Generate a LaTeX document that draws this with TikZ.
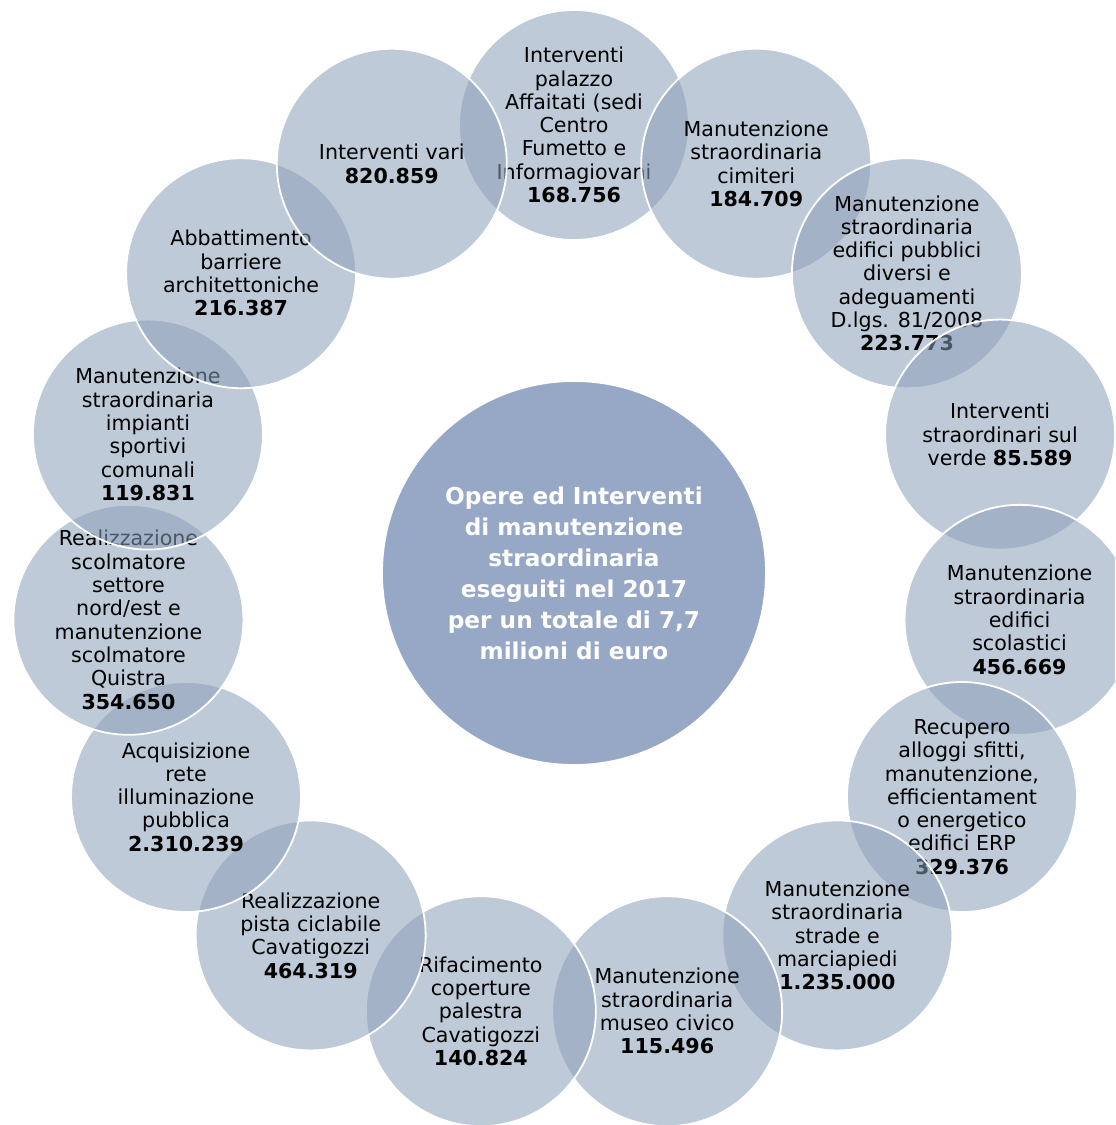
\documentclass[tikz,border=0pt]{standalone}
\usepackage{fontspec}
\setmainfont{DejaVu Sans}
\usetikzlibrary{calc}
\definecolor{outerblue}{RGB}{140,159,184}
\definecolor{centerblue}{RGB}{151,167,198}
\tikzset{
  bubble/.style={circle, minimum size=115pt, inner sep=0pt, fill=outerblue, fill opacity=0.55, draw=white, draw opacity=1, line width=0.9pt},
  bubbletext/.style={align=center, inner sep=0pt, text=black, font=\fontsize{10.3pt}{11.65pt}\selectfont},
  hub/.style={circle, minimum size=192pt, inner sep=0pt, fill=centerblue, draw=white, line width=0.9pt},
  hubtext/.style={align=center, inner sep=0pt, text=white, font=\bfseries\fontsize{11.6pt}{15.5pt}\selectfont}
}
\begin{document}
\begin{tikzpicture}[x=0.5pt,y=-0.5pt]
\clip (0,0) rectangle (1115,1125);
\fill[white] (0,0) rectangle (1115,1125);
\coordinate (O) at (574,573);
\node[hub] (hub) at (O) {};
\node[hubtext] (hubt) at (hub.center) {Opere ed Interventi\\di manutenzione\\straordinaria\\eseguiti nel 2017\\per un totale di 7,7\\milioni di euro};
%
\node[bubble] (c1) at ($(O)+(-90:448)$) {};
\node[bubbletext] (t1) at (c1.center) {Interventi\\palazzo\\Affaitati (sedi\\Centro\\Fumetto e\\Informagiovani\\\textbf{168.756}};
\node[bubble] (c2) at ($(O)+(-66:448)$) {};
\node[bubbletext] (t2) at (c2.center) {Manutenzione\\straordinaria\\cimiteri\\\textbf{184.709}};
\node[bubble] (c3) at ($(O)+(-42:448)$) {};
\node[bubbletext] (t3) at (c3.center) {Manutenzione\\straordinaria\\edifici pubblici\\diversi e\\adeguamenti\\D.lgs. 81/2008\\\textbf{223.773}};
\node[bubble] (c4) at ($(O)+(-18:448)$) {};
\node[bubbletext] (t4) at (c4.center) {Interventi\\straordinari sul\\verde \textbf{85.589}};
\node[bubble] (c5) at ($(O)+(6:448)$) {};
\node[bubbletext] (t5) at (c5.center) {Manutenzione\\straordinaria\\edifici\\scolastici\\\textbf{456.669}};
\node[bubble] (c6) at ($(O)+(30:448)$) {};
\node[bubbletext] (t6) at (c6.center) {Recupero\\alloggi sfitti,\\manutenzione,\\efficientament\\o energetico\\edifici ERP\\\textbf{329.376}};
\node[bubble] (c7) at ($(O)+(54:448)$) {};
\node[bubbletext] (t7) at (c7.center) {Manutenzione\\straordinaria\\strade e\\marciapiedi\\\textbf{1.235.000}};
\node[bubble] (c8) at ($(O)+(78:448)$) {};
\node[bubbletext] (t8) at (c8.center) {Manutenzione\\straordinaria\\museo civico\\\textbf{115.496}};
\node[bubble] (c9) at ($(O)+(102:448)$) {};
\node[bubbletext] (t9) at (c9.center) {Rifacimento\\coperture\\palestra\\Cavatigozzi\\\textbf{140.824}};
\node[bubble] (c10) at ($(O)+(126:448)$) {};
\node[bubbletext] (t10) at (c10.center) {Realizzazione\\pista ciclabile\\Cavatigozzi\\\textbf{464.319}};
\node[bubble] (c11) at ($(O)+(150:448)$) {};
\node[bubbletext] (t11) at (c11.center) {Acquisizione\\rete\\illuminazione\\pubblica\\\textbf{2.310.239}};
\node[bubble] (c12) at ($(O)+(174:448)$) {};
\node[bubbletext] (t12) at (c12.center) {Realizzazione\\scolmatore\\settore\\nord/est e\\manutenzione\\scolmatore\\Quistra\\\textbf{354.650}};
\node[bubble] (c13) at ($(O)+(198:448)$) {};
\node[bubbletext] (t13) at (c13.center) {Manutenzione\\straordinaria\\impianti\\sportivi\\comunali\\\textbf{119.831}};
\node[bubble] (c14) at ($(O)+(222:448)$) {};
\node[bubbletext] (t14) at (c14.center) {Abbattimento\\barriere\\architettoniche\\\textbf{216.387}};
\node[bubble] (c15) at ($(O)+(246:448)$) {};
\node[bubbletext] (t15) at (c15.center) {Interventi vari\\\textbf{820.859}};
\end{tikzpicture}
\end{document}
